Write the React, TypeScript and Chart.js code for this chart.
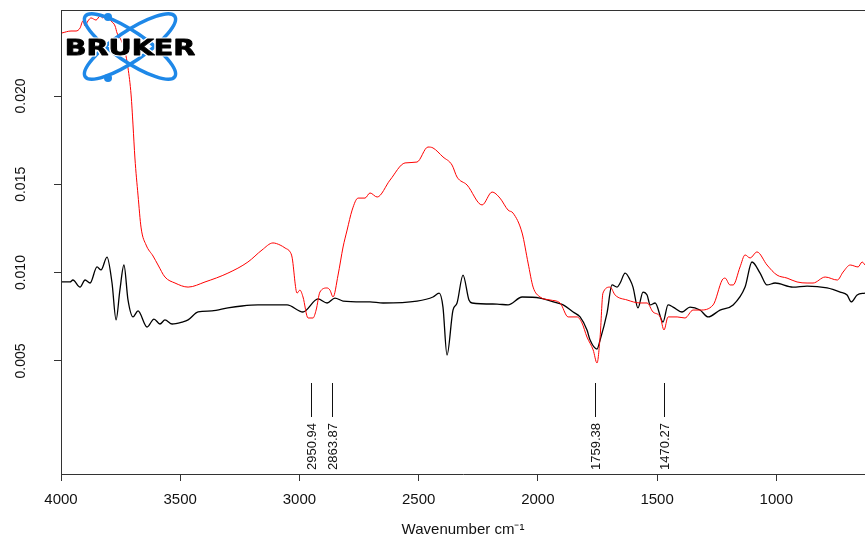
import React, { useEffect, useRef } from "react";
import { Chart, registerables } from "chart.js";

Chart.register(...registerables);

// ---- data ----
const xTicks = [1000, 1500, 2000, 2500, 3000, 3500, 4000];
const yTicks = [0.005, 0.01, 0.015, 0.02];
const peakWavenumbers = [2950.94, 2863.87, 1759.38, 1470.27];

const redWn = [3996,3958,3937,3920,3908,3899,3887,3874,3853,3836,3824,3811,3790,3773,3765,3748,3732,3719,3706,3698,3690,3677,3664,3643,3614,3593,3564,3522,3467,3396,3300,3216,3157,3111,3081,3060,3039,3031,3010,2998,2985,2964,2943,2930,2914,2884,2872,2859,2838,2817,2800,2779,2754,2725,2704,2674,2620,2557,2507,2461,2440,2398,2360,2339,2297,2234,2192,2159,2125,2104,2066,2041,2020,1991,1949,1907,1873,1836,1815,1794,1768,1752,1739,1727,1697,1676,1626,1571,1542,1517,1487,1471,1454,1416,1383,1349,1320,1265,1227,1215,1194,1181,1152,1131,1110,1081,1039,997,955,913,871,846,795,744,720,690,657,640,628];
const redAbs = [0.02357,0.02368,0.02368,0.02385,0.02425,0.02396,0.02425,0.02442,0.0243,0.02453,0.02442,0.02459,0.02425,0.02396,0.02357,0.02317,0.02255,0.02159,0.02006,0.01836,0.01649,0.01439,0.01253,0.01156,0.01094,0.01043,0.00975,0.00941,0.00918,0.00947,0.00997,0.0106,0.01128,0.01168,0.01156,0.01139,0.01117,0.01088,0.00884,0.00901,0.00862,0.00743,0.00743,0.00788,0.0089,0.00913,0.00901,0.00862,0.00986,0.01145,0.01241,0.01354,0.01422,0.01422,0.01451,0.01428,0.01524,0.01621,0.01626,0.01711,0.01706,0.01655,0.01609,0.01541,0.01496,0.01383,0.01456,0.01422,0.01354,0.01337,0.01224,0.01054,0.00918,0.00862,0.00845,0.00828,0.00749,0.00749,0.00715,0.00635,0.00562,0.00488,0.00635,0.00884,0.00918,0.00873,0.00845,0.00828,0.00828,0.00777,0.00749,0.00675,0.00749,0.00749,0.00743,0.00788,0.00788,0.00817,0.00958,0.00969,0.0093,0.0093,0.01032,0.011,0.01083,0.01117,0.01043,0.00986,0.00969,0.00947,0.00941,0.00941,0.00975,0.00958,0.01003,0.01043,0.01032,0.0106,0.01043];

const blackWn = [3996,3962,3950,3920,3899,3878,3849,3832,3807,3786,3769,3753,3736,3719,3698,3677,3639,3610,3585,3564,3534,3492,3467,3425,3367,3300,3241,3174,3052,2985,2922,2884,2851,2817,2704,2649,2507,2440,2414,2398,2381,2356,2339,2314,2289,2276,2171,2125,2066,1991,1919,1894,1852,1823,1794,1781,1752,1739,1710,1689,1668,1655,1634,1613,1601,1580,1559,1542,1529,1508,1475,1454,1433,1395,1362,1320,1286,1236,1181,1131,1102,1068,1039,1005,930,871,787,732,703,686,661,628];
const blackAbs = [0.00947,0.00947,0.00958,0.00918,0.00958,0.00941,0.01032,0.01015,0.01088,0.00941,0.00732,0.00901,0.01043,0.00845,0.00749,0.00783,0.00692,0.00737,0.00709,0.00732,0.00709,0.0072,0.00732,0.00777,0.00783,0.008,0.00811,0.00817,0.00817,0.00777,0.00851,0.00828,0.00856,0.00839,0.00834,0.00828,0.00839,0.00862,0.00884,0.00805,0.00533,0.00788,0.00828,0.00986,0.00845,0.00828,0.00822,0.00817,0.00862,0.00856,0.00828,0.00817,0.00777,0.00749,0.00675,0.00618,0.00567,0.00618,0.00771,0.0093,0.00918,0.00941,0.00997,0.00958,0.00918,0.008,0.0089,0.00873,0.00817,0.00828,0.0072,0.00817,0.00805,0.00777,0.00805,0.00788,0.00749,0.00788,0.00817,0.00918,0.0106,0.00997,0.0093,0.00941,0.00918,0.00924,0.00913,0.0089,0.00873,0.00834,0.00873,0.00884];

const FONT = '"Liberation Sans", Arial, sans-serif';

export default function App() {
  const ref = useRef<HTMLCanvasElement>(null);

  useEffect(() => {
    const canvas = ref.current;
    if (!canvas) return;

    const decorations = {
      id: "decorations",
      afterDatasetsDraw(chart: any) {
        const ctx = chart.ctx as CanvasRenderingContext2D;
        const a = chart.chartArea;
        // Bruker logo
        const cx = a.left + 69;
        const cy = a.top + 36.5;
        ctx.save();
        const blue = "#1e88e8";
        ctx.strokeStyle = blue;
        ctx.lineWidth = 3.5;
        for (const ang of [34, -34]) {
          ctx.beginPath();
          ctx.ellipse(cx, cy, 54, 15, (ang * Math.PI) / 180, 0, Math.PI * 2);
          ctx.stroke();
        }
        ctx.fillStyle = blue;
        ctx.beginPath();
        ctx.arc(cx - 22, cy - 29.5, 4, 0, Math.PI * 2);
        ctx.fill();
        ctx.beginPath();
        ctx.arc(cx - 22, cy + 31.5, 4, 0, Math.PI * 2);
        ctx.fill();
        ctx.translate(cx, cy + 8.5);
        ctx.scale(1.36, 1);
        ctx.font = 'bold 21px "DejaVu Sans", sans-serif';
        ctx.textAlign = "center";
        ctx.textBaseline = "alphabetic";
        ctx.lineJoin = "round";
        ctx.strokeStyle = "#fff";
        ctx.lineWidth = 3;
        ctx.strokeText("BRUKER", 0, 0);
        ctx.fillStyle = "#000";
        ctx.strokeStyle = "#000";
        ctx.lineWidth = 0.8;
        ctx.fillText("BRUKER", 0, 0);
        ctx.strokeText("BRUKER", 0, 0);
        ctx.restore();
      },
      afterDraw(chart: any) {
        const ctx = chart.ctx as CanvasRenderingContext2D;
        const a = chart.chartArea;
        const xs = chart.scales.x;
        ctx.save();
        // top frame line
        ctx.strokeStyle = "#333";
        ctx.lineWidth = 1;
        ctx.beginPath();
        ctx.moveTo(a.left, a.top + 0.5);
        ctx.lineTo(a.right, a.top + 0.5);
        ctx.stroke();
        // peak markers
        ctx.strokeStyle = "#111";
        ctx.fillStyle = "#111";
        ctx.font = `13px ${FONT}`;
        peakWavenumbers.forEach((wn) => {
          const px = Math.round(xs.getPixelForValue(wn)) + 0.5;
          ctx.beginPath();
          ctx.moveTo(px, a.bottom - 91);
          ctx.lineTo(px, a.bottom - 57);
          ctx.stroke();
          ctx.save();
          ctx.translate(px + 1, a.bottom - 4);
          ctx.rotate(-Math.PI / 2);
          ctx.textAlign = "left";
          ctx.textBaseline = "middle";
          ctx.fillText(wn.toFixed(2), 0, 0);
          ctx.restore();
        });
        ctx.restore();
      },
    };

    const chart = new Chart(canvas, {
      type: "line",
      data: {
        datasets: [
          {
            label: "red",
            data: redWn.map((x, i) => ({ x, y: redAbs[i] })),
            borderColor: "#ff0000",
            borderWidth: 1,
            pointRadius: 0,
            cubicInterpolationMode: "monotone",
          },
          {
            label: "black",
            data: blackWn.map((x, i) => ({ x, y: blackAbs[i] })),
            borderColor: "#000000",
            borderWidth: 1.3,
            pointRadius: 0,
            cubicInterpolationMode: "monotone",
          },
        ],
      },
      options: {
        responsive: false,
        animation: false,
        events: [],
        layout: { padding: { top: 10, left: 0, right: 0, bottom: 0 } },
        plugins: { legend: { display: false }, tooltip: { enabled: false } },
        scales: {
          x: {
            type: "linear",
            reverse: true,
            min: 628,
            max: 4000,
            afterBuildTicks: (s: any) => {
              s.ticks = xTicks.map((v) => ({ value: v }));
            },
            afterFit: (s: any) => {
              s.height = 61;
              s.paddingLeft = 0;
              s.paddingRight = 0;
            },
            grid: { display: true, drawOnChartArea: false, drawTicks: true, tickLength: 7, color: "#333", lineWidth: 1 },
            border: { display: true, color: "#333", width: 1 },
            ticks: {
              font: { family: FONT, size: 15 },
              color: "#111",
              padding: 10,
              minRotation: 0,
              maxRotation: 0,
              callback: (v: any) => String(v),
            },
            title: {
              display: true,
              text: "Wavenumber cm\u207B\u00B9",
              font: { family: FONT, size: 15, lineHeight: 1 },
              color: "#111",
              padding: { top: 0, bottom: -2 },
            },
          },
          y: {
            type: "linear",
            min: -0.001404,
            max: 0.02487,
            afterBuildTicks: (s: any) => {
              s.ticks = yTicks.map((v) => ({ value: v }));
            },
            afterFit: (s: any) => {
              s.width = 61;
              s.paddingTop = 0;
              s.paddingBottom = 0;
            },
            grid: { display: true, drawOnChartArea: false, drawTicks: true, tickLength: 7, color: "#333", lineWidth: 1 },
            border: { display: true, color: "#333", width: 1 },
            ticks: {
              font: { family: FONT, size: 14 },
              color: "#111",
              minRotation: 90,
              maxRotation: 90,
              crossAlign: "center",
              padding: 15,
              callback: (v: any) => Number(v).toFixed(3),
            },
          },
        },
      },
      plugins: [decorations],
    } as any);

    return () => chart.destroy();
  }, []);

  return (
    <div style={{ position: "fixed", left: 0, top: 0, width: 865, height: 535, background: "#fff" }}>
      <canvas ref={ref} width={865} height={535} style={{ display: "block" }} />
    </div>
  );
}
